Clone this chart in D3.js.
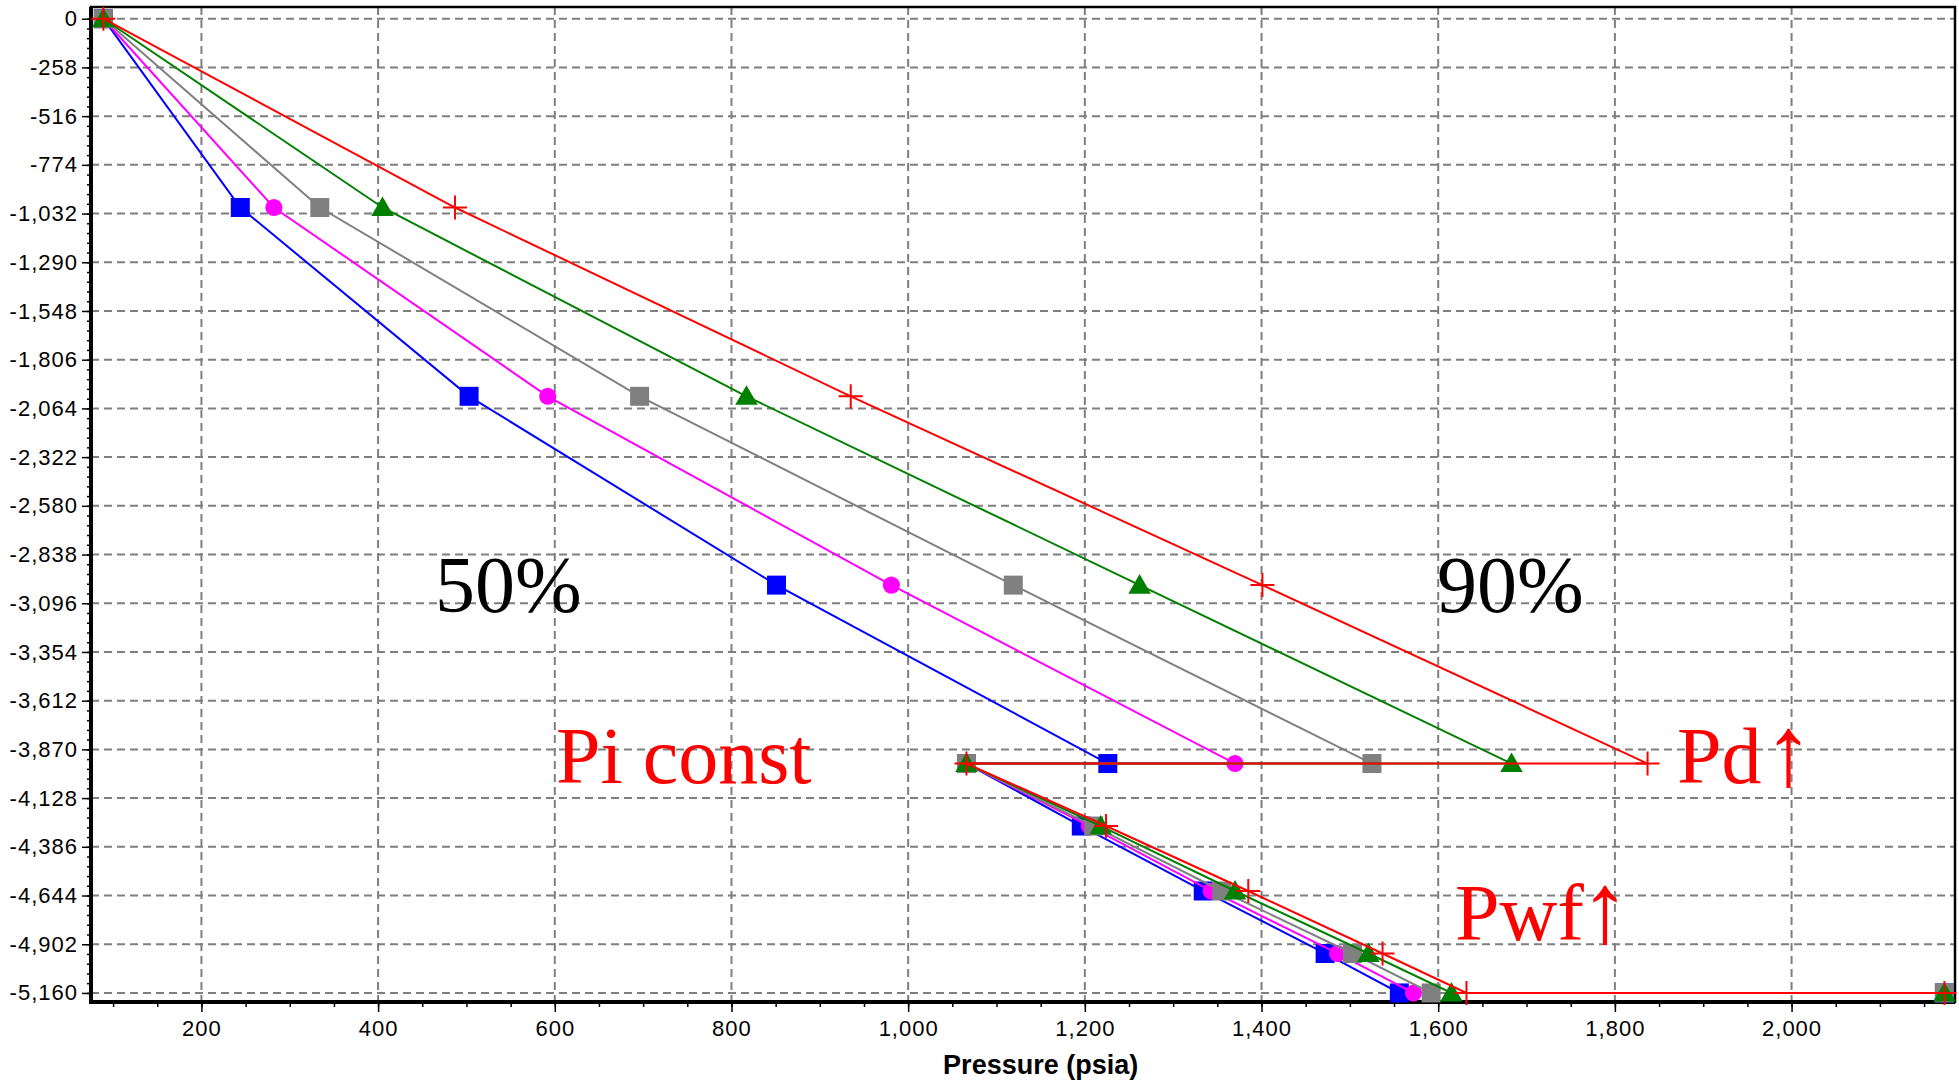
<!DOCTYPE html>
<html>
<head>
<meta charset="UTF-8">
<title>Pressure traverse</title>
<style>
  body { margin: 0; background: #fff; }
  .tick-label { font-family: "Liberation Sans", Arial, sans-serif; font-size: 22px; letter-spacing: 1px; fill: #000; }
  .grid line { stroke: #7f7f7f; stroke-width: 2; stroke-dasharray: 8,5; }
  .note { font-family: "Liberation Serif", "Times New Roman", serif; font-size: 80px; }
  .axis-title { font-family: "Liberation Sans", Arial, sans-serif; font-size: 27px; font-weight: bold; }
</style>
</head>
<body>
<svg id="chart"></svg>
<script src="https://d3js.org/d3.v7.min.js"></script>
<script>
// depth (ft) of every marker, shared by all traverses
const depths = [0, -1000, -2000, -3000, -3945, -3945, -4276, -4620, -4951, -5160, -5160];

// pressure (psia) of each traverse, same order as depths
const bluePressure    = [89, 244, 503, 851, 1226, 1066, 1196, 1334, 1472, 1556, 2173];
const magentaPressure = [89, 282, 592, 981, 1370, 1066, 1205, 1343, 1486, 1572, 2173];
const grayPressure    = [89, 334, 696, 1119, 1525, 1066, 1210, 1355, 1503, 1592, 2173];
const greenPressure   = [89, 405, 817, 1262, 1683, 1066, 1218, 1370, 1521, 1615, 2173];
const redPressure     = [89, 487, 935, 1401, 1837, 1066, 1224, 1385, 1537, 1632, 2173];

const xTicks = [200, 400, 600, 800, 1000, 1200, 1400, 1600, 1800, 2000];
const yTicks = [0, -258, -516, -774, -1032, -1290, -1548, -1806, -2064, -2322, -2580,
                -2838, -3096, -3354, -3612, -3870, -4128, -4386, -4644, -4902, -5160];

const width = 1959, height = 1080;
const margin = { top: 7, right: 4, bottom: 78, left: 91 };

const svg = d3.select("#chart")
    .attr("width", width)
    .attr("height", height);

const x = d3.scaleLinear().domain([75, 2185]).range([margin.left, width - margin.right]);
const y = d3.scaleLinear().domain([62, -5208]).range([margin.top, height - margin.bottom]);

const fmt = d3.formatLocale({ decimal: ".", thousands: ",", grouping: [3], currency: ["", ""], minus: "-" }).format(",");

// grid
const grid = svg.append("g").attr("class", "grid");
grid.selectAll(".gx").data(xTicks).enter().append("line")
    .attr("x1", d => x(d)).attr("x2", d => x(d))
    .attr("y1", margin.top).attr("y2", height - margin.bottom);
grid.selectAll(".gy").data(yTicks).enter().append("line")
    .attr("x1", margin.left).attr("x2", width - margin.right)
    .attr("y1", d => y(d)).attr("y2", d => y(d));

// x axis: major ticks with labels, minor every 50
const xAxis = svg.append("g")
    .attr("transform", `translate(0, ${height - margin.bottom})`)
    .call(d3.axisBottom(x).tickValues(d3.range(100, 2151, 50)).tickSize(5).tickFormat(""));
xAxis.append("g").call(d3.axisBottom(x).tickValues(xTicks).tickSize(10).tickFormat(fmt).tickPadding(8));
xAxis.selectAll(".domain").remove();
xAxis.selectAll("line").attr("stroke", "#000").attr("stroke-width", 1.5);
xAxis.selectAll("text").attr("class", "tick-label").attr("font-size", null).attr("font-family", null);

// y axis: major ticks with labels, minor in between
const yMinor = d3.range(0, -5209, -51.6);
const yAxis = svg.append("g")
    .attr("transform", `translate(${margin.left}, 0)`)
    .call(d3.axisLeft(y).tickValues(yMinor).tickSize(4).tickFormat(""));
yAxis.append("g").call(d3.axisLeft(y).tickValues(yTicks).tickSize(9).tickFormat(fmt).tickPadding(4));
yAxis.selectAll(".domain").remove();
yAxis.selectAll("line").attr("stroke", "#000").attr("stroke-width", 1.5);
yAxis.selectAll("text").attr("class", "tick-label").attr("font-size", null).attr("font-family", null);

// frame
svg.append("rect")
    .attr("x", margin.left).attr("y", margin.top)
    .attr("width", width - margin.left - margin.right)
    .attr("height", height - margin.top - margin.bottom)
    .attr("fill", "none").attr("stroke", "#000").attr("stroke-width", 2.5);
svg.append("line")
    .attr("x1", margin.left).attr("x2", margin.left)
    .attr("y1", margin.top).attr("y2", height - margin.bottom + 2)
    .attr("stroke", "#000").attr("stroke-width", 4);
svg.append("line")
    .attr("x1", margin.left).attr("x2", width - margin.right)
    .attr("y1", height - margin.bottom).attr("y2", height - margin.bottom)
    .attr("stroke", "#000").attr("stroke-width", 4);

// series
const series = [
    { name: "blue", color: "#0000ff", values: bluePressure, marker: "square" },
    { name: "magenta", color: "#ff00ff", values: magentaPressure, marker: "circle" },
    { name: "gray", color: "#808080", values: grayPressure, marker: "square" },
    { name: "green", color: "#008000", values: greenPressure, marker: "triangle" },
    { name: "red", color: "#ff0000", values: redPressure, marker: "cross" }
];

const line = d3.line().x(d => x(d[0])).y(d => y(d[1]));
const symbols = {
    square: d3.symbol().type(d3.symbolSquare).size(361),
    circle: d3.symbol().type(d3.symbolCircle).size(230),
    triangle: d3.symbol().type(d3.symbolTriangle).size(220)
};

series.forEach(s => {
    const pts = s.values.map((p, i) => [p, depths[i]]);
    const g = svg.append("g").attr("class", "series-" + s.name);
    g.append("path")
        .attr("d", line(pts))
        .attr("fill", "none")
        .attr("stroke", s.color)
        .attr("stroke-width", 2);
    if (s.marker === "cross") {
        g.selectAll(".m").data(pts).enter().append("path")
            .attr("transform", d => `translate(${x(d[0])},${y(d[1])})`)
            .attr("d", "M-12,0H12M0,-12V12")
            .attr("stroke", s.color)
            .attr("stroke-width", 2);
    } else {
        g.selectAll(".m").data(pts).enter().append("path")
            .attr("transform", d => `translate(${x(d[0])},${y(d[1]) + (s.marker === "triangle" ? 2 : 0)})`)
            .attr("d", symbols[s.marker])
            .attr("fill", s.color);
    }
});

// annotations
const notes = [
    { text: "50%", arrow: false, x: 435, y: 612, color: "#000", size: 77 },
    { text: "90%", arrow: false, x: 1437, y: 612, color: "#000", size: 77 },
    { text: "Pi const", arrow: false, x: 556, y: 783, color: "#ff0000", size: 80 },
    { text: "Pd", arrow: true, x: 1677, y: 783, color: "#ff0000", size: 80, dx: 2 },
    { text: "Pwf", arrow: true, x: 1455, y: 940, color: "#ff0000", size: 80, dx: -4 }
];
const noteText = svg.selectAll(".note").data(notes).enter().append("text")
    .attr("class", "note")
    .attr("x", d => d.x).attr("y", d => d.y)
    .attr("font-size", d => d.size)
    .attr("fill", d => d.color)
    .text(d => d.text);
noteText.filter(d => d.arrow).append("tspan")
    .attr("font-size", 100)
    .attr("dx", d => d.dx)
    .attr("dy", 2)
    .text("\u2191");

// axis title
svg.append("text")
    .attr("class", "axis-title")
    .attr("x", x(1150)).attr("y", 1074)
    .attr("text-anchor", "middle")
    .text("Pressure (psia)");
</script>
</body>
</html>
